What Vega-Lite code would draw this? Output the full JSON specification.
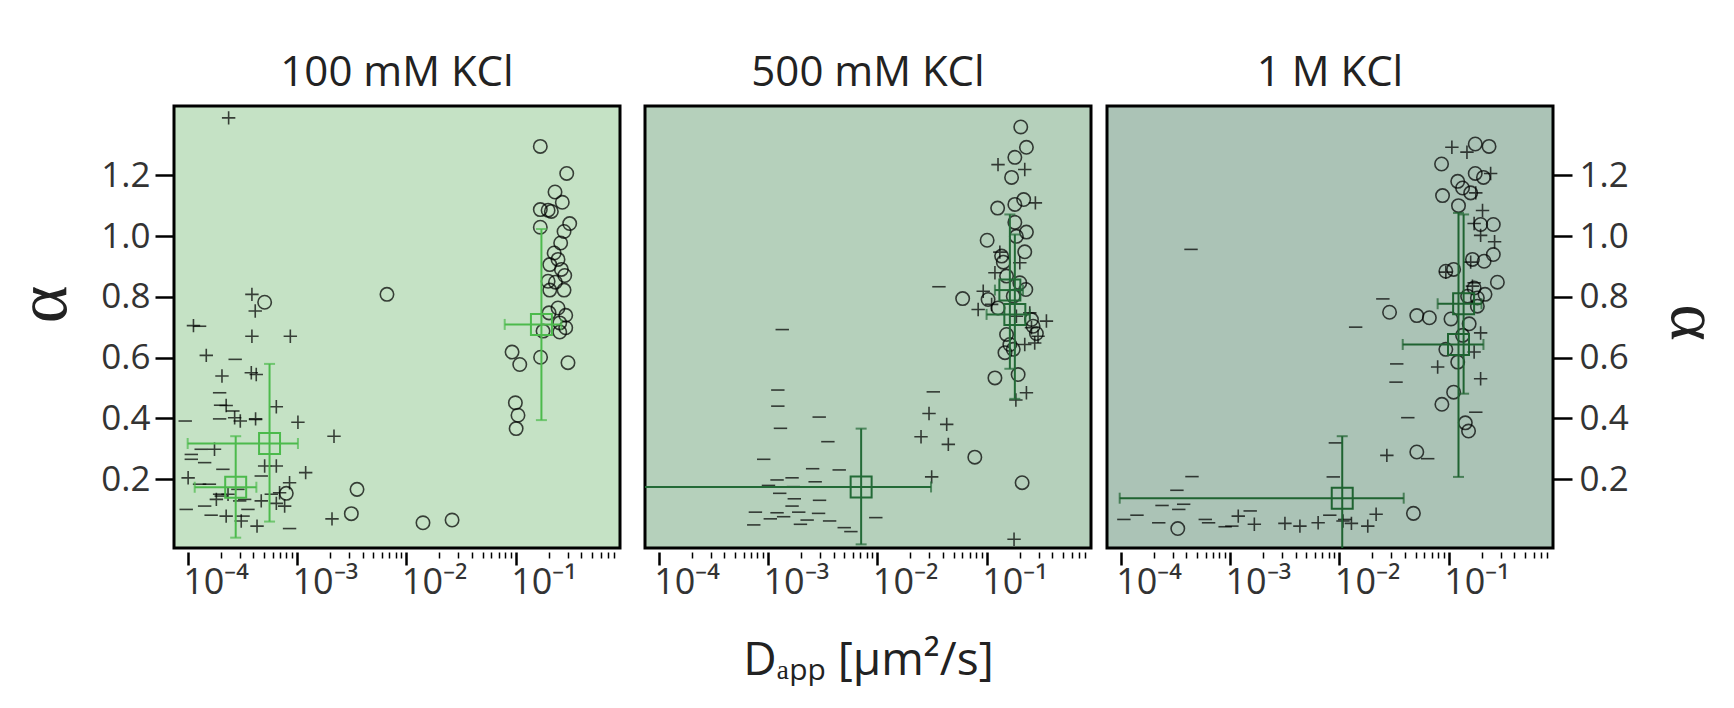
{
  "$schema": "https://vega.github.io/schema/vega-lite/v6.json",
  "background": "white",
  "padding": {"left": 6, "top": 50, "right": 5, "bottom": 5},
  "spacing": 12,
  "config": {
    "view": {"stroke": "black", "strokeWidth": 3},
    "title": {"font": "Open Sans", "fontSize": 42, "fontWeight": "normal", "color": "#222", "offset": 11}
  },
  "datasets": {
    "pts": [
      {"p":1,"s":"o","D":0.168,"a":1.295},{"p":1,"s":"o","D":0.293,"a":1.206},{"p":1,"s":"o","D":0.229,"a":1.145},{"p":1,"s":"o","D":0.267,"a":1.111},{"p":1,"s":"o","D":0.168,"a":1.087},{"p":1,"s":"o","D":0.198,"a":1.085},{"p":1,"s":"o","D":0.212,"a":1.081},{"p":1,"s":"o","D":0.312,"a":1.041},{"p":1,"s":"o","D":0.168,"a":1.029},{"p":1,"s":"o","D":0.277,"a":1.015},{"p":1,"s":"o","D":0.258,"a":0.977},{"p":1,"s":"o","D":0.225,"a":0.944},{"p":1,"s":"o","D":0.244,"a":0.923},{"p":1,"s":"o","D":0.205,"a":0.906},{"p":1,"s":"o","D":0.262,"a":0.890},{"p":1,"s":"o","D":0.281,"a":0.870},{"p":1,"s":"o","D":0.198,"a":0.851},{"p":1,"s":"o","D":0.231,"a":0.848},{"p":1,"s":"o","D":0.205,"a":0.822},{"p":1,"s":"o","D":0.277,"a":0.822},{"p":1,"s":"o","D":0.244,"a":0.763},{"p":1,"s":"o","D":0.202,"a":0.747},{"p":1,"s":"o","D":0.287,"a":0.739},{"p":1,"s":"o","D":0.253,"a":0.714},{"p":1,"s":"o","D":0.287,"a":0.698},{"p":1,"s":"o","D":0.178,"a":0.687},{"p":1,"s":"o","D":0.253,"a":0.684},{"p":1,"s":"o","D":0.0927,"a":0.618},{"p":1,"s":"o","D":0.109,"a":0.577},{"p":1,"s":"o","D":0.169,"a":0.601},{"p":1,"s":"o","D":0.301,"a":0.583},{"p":1,"s":"o","D":0.0994,"a":0.451},{"p":1,"s":"o","D":0.105,"a":0.410},{"p":1,"s":"o","D":0.101,"a":0.366},{"p":1,"s":"o","D":0.00665,"a":0.808},{"p":1,"s":"o","D":0.00354,"a":0.166},{"p":1,"s":"o","D":0.00314,"a":0.086},{"p":1,"s":"o","D":0.0142,"a":0.056},{"p":1,"s":"o","D":0.0262,"a":0.065},{"p":1,"s":"o","D":0.000506,"a":0.782},{"p":1,"s":"o","D":0.000798,"a":0.153},
      {"p":1,"s":"+","D":0.000237,"a":1.389},{"p":1,"s":"+","D":0.000113,"a":0.705},{"p":1,"s":"+","D":0.000387,"a":0.808},{"p":1,"s":"+","D":0.000415,"a":0.753},{"p":1,"s":"+","D":0.000387,"a":0.670},{"p":1,"s":"+","D":0.000869,"a":0.670},{"p":1,"s":"+","D":0.000148,"a":0.607},{"p":1,"s":"+","D":0.000206,"a":0.539},{"p":1,"s":"+","D":0.000382,"a":0.550},{"p":1,"s":"+","D":0.000424,"a":0.544},{"p":1,"s":"+","D":0.000647,"a":0.438},{"p":1,"s":"+","D":0.00102,"a":0.387},{"p":1,"s":"+","D":0.000269,"a":0.402},{"p":1,"s":"+","D":0.000303,"a":0.391},{"p":1,"s":"+","D":0.000418,"a":0.398},{"p":1,"s":"+","D":0.000225,"a":0.442},{"p":1,"s":"+","D":0.00218,"a":0.341},{"p":1,"s":"+","D":0.000176,"a":0.298},{"p":1,"s":"+","D":0.000506,"a":0.243},{"p":1,"s":"+","D":0.000647,"a":0.243},{"p":1,"s":"+","D":0.0012,"a":0.221},{"p":1,"s":"+","D":0.000101,"a":0.204},{"p":1,"s":"+","D":0.000855,"a":0.188},{"p":1,"s":"+","D":0.000693,"a":0.155},{"p":1,"s":"+","D":0.000471,"a":0.128},{"p":1,"s":"+","D":0.000771,"a":0.111},{"p":1,"s":"+","D":0.000225,"a":0.078},{"p":1,"s":"+","D":0.000431,"a":0.045},{"p":1,"s":"+","D":0.00209,"a":0.069},{"p":1,"s":"+","D":0.000647,"a":0.120},{"p":1,"s":"+","D":0.000234,"a":0.150},{"p":1,"s":"+","D":0.000309,"a":0.062},{"p":1,"s":"+","D":0.000183,"a":0.133},
      {"p":1,"s":"-","D":0.0001285,"a":0.703},{"p":1,"s":"-","D":0.000272,"a":0.594},{"p":1,"s":"-","D":0.000196,"a":0.484},{"p":1,"s":"-","D":0.0002,"a":0.443},{"p":1,"s":"-","D":0.000259,"a":0.424},{"p":1,"s":"-","D":0.000196,"a":0.398},{"p":1,"s":"-","D":0.000418,"a":0.396},{"p":1,"s":"-","D":0.000095,"a":0.391},{"p":1,"s":"-","D":0.000108,"a":0.281},{"p":1,"s":"-","D":0.000133,"a":0.298},{"p":1,"s":"-","D":0.000108,"a":0.265},{"p":1,"s":"-","D":0.000143,"a":0.254},{"p":1,"s":"-","D":0.00021,"a":0.232},{"p":1,"s":"-","D":0.0001285,"a":0.183},{"p":1,"s":"-","D":0.000158,"a":0.183},{"p":1,"s":"-","D":0.000097,"a":0.100},{"p":1,"s":"-","D":0.000143,"a":0.111},{"p":1,"s":"-","D":0.000164,"a":0.081},{"p":1,"s":"-","D":0.000321,"a":0.078},{"p":1,"s":"-","D":0.000356,"a":0.100},{"p":1,"s":"-","D":0.000855,"a":0.037},{"p":1,"s":"-","D":0.000299,"a":0.128},{"p":1,"s":"-","D":0.000203,"a":0.144},{"p":1,"s":"-","D":0.000582,"a":0.150},{"p":1,"s":"-","D":0.000288,"a":0.166},{"p":1,"s":"-","D":0.000332,"a":0.133},{"p":1,"s":"-","D":0.000471,"a":0.210},{"p":1,"s":"-","D":0.000196,"a":0.150},
      {"p":2,"s":"o","D":0.205,"a":1.359},{"p":2,"s":"o","D":0.231,"a":1.292},{"p":2,"s":"o","D":0.181,"a":1.259},{"p":2,"s":"o","D":0.169,"a":1.193},{"p":2,"s":"o","D":0.218,"a":1.120},{"p":2,"s":"o","D":0.181,"a":1.104},{"p":2,"s":"o","D":0.126,"a":1.092},{"p":2,"s":"o","D":0.181,"a":1.045},{"p":2,"s":"o","D":0.231,"a":1.013},{"p":2,"s":"o","D":0.187,"a":0.999},{"p":2,"s":"o","D":0.101,"a":0.986},{"p":2,"s":"o","D":0.223,"a":0.948},{"p":2,"s":"o","D":0.142,"a":0.914},{"p":2,"s":"o","D":0.152,"a":0.868},{"p":2,"s":"o","D":0.228,"a":0.824},{"p":2,"s":"o","D":0.0603,"a":0.794},{"p":2,"s":"o","D":0.103,"a":0.791},{"p":2,"s":"o","D":0.127,"a":0.763},{"p":2,"s":"o","D":0.175,"a":0.802},{"p":2,"s":"o","D":0.266,"a":0.703},{"p":2,"s":"o","D":0.257,"a":0.725},{"p":2,"s":"o","D":0.152,"a":0.676},{"p":2,"s":"o","D":0.285,"a":0.679},{"p":2,"s":"o","D":0.163,"a":0.643},{"p":2,"s":"o","D":0.147,"a":0.616},{"p":2,"s":"o","D":0.175,"a":0.627},{"p":2,"s":"o","D":0.119,"a":0.533},{"p":2,"s":"o","D":0.194,"a":0.544},{"p":2,"s":"o","D":0.0779,"a":0.272},{"p":2,"s":"o","D":0.211,"a":0.188},{"p":2,"s":"o","D":0.201,"a":0.846},{"p":2,"s":"o","D":0.137,"a":0.934},
      {"p":2,"s":"+","D":0.127,"a":1.235},{"p":2,"s":"+","D":0.223,"a":1.219},{"p":2,"s":"+","D":0.279,"a":1.109},{"p":2,"s":"+","D":0.132,"a":0.947},{"p":2,"s":"+","D":0.201,"a":0.912},{"p":2,"s":"+","D":0.119,"a":0.879},{"p":2,"s":"+","D":0.093,"a":0.818},{"p":2,"s":"+","D":0.0836,"a":0.758},{"p":2,"s":"+","D":0.111,"a":0.775},{"p":2,"s":"+","D":0.352,"a":0.720},{"p":2,"s":"+","D":0.257,"a":0.698},{"p":2,"s":"+","D":0.295,"a":0.670},{"p":2,"s":"+","D":0.223,"a":0.643},{"p":2,"s":"+","D":0.275,"a":0.648},{"p":2,"s":"+","D":0.231,"a":0.484},{"p":2,"s":"+","D":0.185,"a":0.460},{"p":2,"s":"+","D":0.0297,"a":0.416},{"p":2,"s":"+","D":0.0431,"a":0.380},{"p":2,"s":"+","D":0.0251,"a":0.339},{"p":2,"s":"+","D":0.0446,"a":0.314},{"p":2,"s":"+","D":0.0314,"a":0.207},{"p":2,"s":"+","D":0.178,"a":0.002},{"p":2,"s":"+","D":0.248,"a":0.747},{"p":2,"s":"+","D":0.187,"a":0.736},
      {"p":2,"s":"-","D":0.00135,"a":0.692},{"p":2,"s":"-","D":0.0366,"a":0.833},{"p":2,"s":"-","D":0.00123,"a":0.493},{"p":2,"s":"-","D":0.00123,"a":0.440},{"p":2,"s":"-","D":0.0013,"a":0.367},{"p":2,"s":"-","D":0.00294,"a":0.404},{"p":2,"s":"-","D":0.00353,"a":0.323},{"p":2,"s":"-","D":0.000914,"a":0.265},{"p":2,"s":"-","D":0.00256,"a":0.234},{"p":2,"s":"-","D":0.00448,"a":0.230},{"p":2,"s":"-","D":0.00121,"a":0.197},{"p":2,"s":"-","D":0.00166,"a":0.204},{"p":2,"s":"-","D":0.0027,"a":0.191},{"p":2,"s":"-","D":0.0325,"a":0.487},{"p":2,"s":"-","D":0.00101,"a":0.179},{"p":2,"s":"-","D":0.00171,"a":0.175},{"p":2,"s":"-","D":0.00128,"a":0.153},{"p":2,"s":"-","D":0.00174,"a":0.135},{"p":2,"s":"-","D":0.00296,"a":0.130},{"p":2,"s":"-","D":0.00166,"a":0.111},{"p":2,"s":"-","D":0.000767,"a":0.091},{"p":2,"s":"-","D":0.00121,"a":0.089},{"p":2,"s":"-","D":0.00191,"a":0.091},{"p":2,"s":"-","D":0.0029,"a":0.087},{"p":2,"s":"-","D":0.00139,"a":0.076},{"p":2,"s":"-","D":0.00105,"a":0.069},{"p":2,"s":"-","D":0.00228,"a":0.065},{"p":2,"s":"-","D":0.000741,"a":0.049},{"p":2,"s":"-","D":0.00198,"a":0.051},{"p":2,"s":"-","D":0.00366,"a":0.062},{"p":2,"s":"-","D":0.00498,"a":0.040},{"p":2,"s":"-","D":0.00573,"a":0.027},{"p":2,"s":"-","D":0.00968,"a":0.073},
      {"p":3,"s":"o","D":0.175,"a":1.303},{"p":3,"s":"o","D":0.234,"a":1.295},{"p":3,"s":"o","D":0.0861,"a":1.237},{"p":3,"s":"o","D":0.175,"a":1.206},{"p":3,"s":"o","D":0.208,"a":1.193},{"p":3,"s":"o","D":0.121,"a":1.180},{"p":3,"s":"o","D":0.134,"a":1.158},{"p":3,"s":"o","D":0.159,"a":1.142},{"p":3,"s":"o","D":0.0879,"a":1.133},{"p":3,"s":"o","D":0.123,"a":1.100},{"p":3,"s":"o","D":0.196,"a":1.038},{"p":3,"s":"o","D":0.256,"a":1.038},{"p":3,"s":"o","D":0.256,"a":0.939},{"p":3,"s":"o","D":0.165,"a":0.923},{"p":3,"s":"o","D":0.211,"a":0.917},{"p":3,"s":"o","D":0.0942,"a":0.884},{"p":3,"s":"o","D":0.111,"a":0.890},{"p":3,"s":"o","D":0.279,"a":0.848},{"p":3,"s":"o","D":0.171,"a":0.829},{"p":3,"s":"o","D":0.215,"a":0.808},{"p":3,"s":"o","D":0.183,"a":0.769},{"p":3,"s":"o","D":0.0288,"a":0.749},{"p":3,"s":"o","D":0.0511,"a":0.738},{"p":3,"s":"o","D":0.0666,"a":0.731},{"p":3,"s":"o","D":0.105,"a":0.727},{"p":3,"s":"o","D":0.154,"a":0.711},{"p":3,"s":"o","D":0.134,"a":0.673},{"p":3,"s":"o","D":0.0942,"a":0.627},{"p":3,"s":"o","D":0.121,"a":0.585},{"p":3,"s":"o","D":0.111,"a":0.486},{"p":3,"s":"o","D":0.0867,"a":0.446},{"p":3,"s":"o","D":0.142,"a":0.385},{"p":3,"s":"o","D":0.152,"a":0.358},{"p":3,"s":"o","D":0.0511,"a":0.289},{"p":3,"s":"o","D":0.0476,"a":0.087},{"p":3,"s":"o","D":0.000333,"a":0.037},{"p":3,"s":"o","D":0.149,"a":0.802},{"p":3,"s":"o","D":0.183,"a":0.796},
      {"p":3,"s":"+","D":0.107,"a":1.292},{"p":3,"s":"+","D":0.147,"a":1.276},{"p":3,"s":"+","D":0.242,"a":1.206},{"p":3,"s":"+","D":0.177,"a":1.142},{"p":3,"s":"+","D":0.204,"a":1.084},{"p":3,"s":"+","D":0.171,"a":1.041},{"p":3,"s":"+","D":0.196,"a":1.002},{"p":3,"s":"+","D":0.263,"a":0.981},{"p":3,"s":"+","D":0.0942,"a":0.881},{"p":3,"s":"+","D":0.165,"a":0.835},{"p":3,"s":"+","D":0.196,"a":0.681},{"p":3,"s":"+","D":0.171,"a":0.618},{"p":3,"s":"+","D":0.0793,"a":0.569},{"p":3,"s":"+","D":0.196,"a":0.530},{"p":3,"s":"+","D":0.0272,"a":0.278},{"p":3,"s":"+","D":0.00119,"a":0.078},{"p":3,"s":"+","D":0.00167,"a":0.051},{"p":3,"s":"+","D":0.00318,"a":0.054},{"p":3,"s":"+","D":0.00436,"a":0.045},{"p":3,"s":"+","D":0.0064,"a":0.056},{"p":3,"s":"+","D":0.0129,"a":0.054},{"p":3,"s":"+","D":0.0182,"a":0.045},{"p":3,"s":"+","D":0.0217,"a":0.084},{"p":3,"s":"+","D":0.0108,"a":0.062},{"p":3,"s":"+","D":0.159,"a":0.914},
      {"p":3,"s":"-","D":0.00044,"a":0.956},{"p":3,"s":"-","D":0.0141,"a":0.700},{"p":3,"s":"-","D":0.025,"a":0.793},{"p":3,"s":"-","D":0.0335,"a":0.579},{"p":3,"s":"-","D":0.033,"a":0.519},{"p":3,"s":"-","D":0.0423,"a":0.402},{"p":3,"s":"-","D":0.177,"a":0.420},{"p":3,"s":"-","D":0.0643,"a":0.267},{"p":3,"s":"-","D":0.0092,"a":0.319},{"p":3,"s":"-","D":0.0088,"a":0.207},{"p":3,"s":"-","D":0.000449,"a":0.208},{"p":3,"s":"-","D":0.000327,"a":0.163},{"p":3,"s":"-","D":0.000239,"a":0.113},{"p":3,"s":"-","D":0.000377,"a":0.117},{"p":3,"s":"-","D":0.00034,"a":0.100},{"p":3,"s":"-","D":0.000141,"a":0.081},{"p":3,"s":"-","D":0.000107,"a":0.067},{"p":3,"s":"-","D":0.000223,"a":0.056},{"p":3,"s":"-","D":0.000594,"a":0.067},{"p":3,"s":"-","D":0.00153,"a":0.095},{"p":3,"s":"-","D":0.000903,"a":0.043},{"p":3,"s":"-","D":0.000637,"a":0.056},{"p":3,"s":"-","D":0.00818,"a":0.081},{"p":3,"s":"-","D":0.0112,"a":0.067},{"p":3,"s":"-","D":0.171,"a":0.846},{"p":3,"s":"-","D":0.00104,"a":0.045}
    ],
    "means": [
      {"p":1,"D":0.000275,"a":0.173,"Dlo":0.000116,"Dhi":0.000425,"alo":0.007,"ahi":0.341},
      {"p":1,"D":0.000561,"a":0.317,"Dlo":0.0001,"Dhi":0.00102,"alo":0.06,"ahi":0.579},
      {"p":1,"D":0.172,"a":0.709,"Dlo":0.0794,"Dhi":0.262,"alo":0.394,"ahi":1.023},
      {"p":2,"D":0.00711,"a":0.174,"Dlo":0.00007,"Dhi":0.031,"alo":-0.015,"ahi":0.366},
      {"p":2,"D":0.163,"a":0.822,"Dlo":0.119,"Dhi":0.215,"alo":0.563,"ahi":1.071},
      {"p":2,"D":0.181,"a":0.742,"Dlo":0.0998,"Dhi":0.248,"alo":0.464,"ahi":1.005},
      {"p":3,"D":0.01063,"a":0.137,"Dlo":0.000098,"Dhi":0.0388,"alo":-0.05,"ahi":0.341},
      {"p":3,"D":0.137,"a":0.777,"Dlo":0.0793,"Dhi":0.1995,"alo":0.481,"ahi":1.071},
      {"p":3,"D":0.123,"a":0.643,"Dlo":0.038,"Dhi":0.208,"alo":0.207,"ahi":1.076}
    ]
  },
  "hconcat": [
    {
      "spacing": 21,
      "hconcat": [
    {
      "width": 446, "height": 442,
      "title": "100 mM KCl",
      "view": {"fill": "#c5e2c5"},
      "layer": [
        {"data": {"name": "pts"}, "transform": [{"filter": "datum.p == 1"}],
         "mark": {"type": "point", "filled": false, "color": "black", "strokeWidth": 1.6, "opacity": 0.72, "size": 180},
         "encoding": {
           "x": {"field": "D", "type": "quantitative", "scale": {"type": "log", "domain": [0.000075, 0.9], "nice": false},
             "axis": {"values": [0.0001,0.0002,0.0003,0.0004,0.0005,0.0006,0.0007,0.0008,0.0009,0.001,0.002,0.003,0.004,0.005,0.006,0.007,0.008,0.009,0.01,0.02,0.03,0.04,0.05,0.06,0.07,0.08,0.09,0.1,0.2,0.3,0.4,0.5,0.6,0.7,0.8],
               "labelExpr": "datum.value == 0.0001 ? '10⁻⁴' : datum.value == 0.001 ? '10⁻³' : datum.value == 0.01 ? '10⁻²' : datum.value == 0.1 ? '10⁻¹' : ''",
               "tickSize": {"condition": {"test": "datum.value == 0.0001 || datum.value == 0.001 || datum.value == 0.01 || datum.value == 0.1", "value": 13}, "value": 6},
               "tickWidth": {"condition": {"test": "datum.value == 0.0001 || datum.value == 0.001 || datum.value == 0.01 || datum.value == 0.1", "value": 2.5}, "value": 1.5},
               "tickColor": "black", "domain": false, "grid": false, "offset": 4,
               "labelFont": "Open Sans", "labelFontSize": 36, "labelColor": "#333", "labelAlign": "left", "labelOffset": -5, "labelPadding": 0,
               "labelOverlap": false, "labelBound": false, "labelFlush": false, "title": null}},
           "y": {"field": "a", "type": "quantitative", "scale": {"domain": [-0.027, 1.428], "nice": false, "zero": false},
             "axis": {"orient": "left", "values": [0.2,0.4,0.6,0.8,1,1.2], "format": ".1f", "tickSize": 19, "tickWidth": 2.5, "tickColor": "black",
               "domain": false, "grid": false, "labelFont": "Open Sans", "labelFontSize": 35, "labelColor": "#333", "labelPadding": 5,
               "title": "α", "titleFont": "Liberation Serif", "titleFontSize": 72, "titleFontWeight": "normal", "titleColor": "#222", "titlePadding": 20, "titleY": 198}},
           "shape": {"field": "s", "type": "nominal", "scale": {"domain": ["o", "+", "-"], "range": ["circle", "M-1,0H1M0,-1V1", "M-1,0H1"]}, "legend": null}
         }},
        {"data": {"name": "means"}, "transform": [{"filter": "datum.p == 1"}],
         "mark": {"type": "rule", "color": "#4cba4c", "strokeWidth": 2, "clip": true},
         "encoding": {"x": {"field": "D", "type": "quantitative"}, "y": {"field": "alo", "type": "quantitative"}, "y2": {"field": "ahi"}}},
        {"data": {"name": "means"}, "transform": [{"filter": "datum.p == 1"}],
         "mark": {"type": "rule", "color": "#4cba4c", "strokeWidth": 2, "clip": true},
         "encoding": {"x": {"field": "Dlo", "type": "quantitative"}, "x2": {"field": "Dhi"}, "y": {"field": "a", "type": "quantitative"}}},
        {"data": {"name": "means"}, "transform": [{"filter": "datum.p == 1"}],
         "mark": {"type": "tick", "orient": "horizontal", "color": "#4cba4c", "size": 11, "thickness": 2, "clip": true},
         "encoding": {"x": {"field": "D", "type": "quantitative"}, "y": {"field": "alo", "type": "quantitative"}}},
        {"data": {"name": "means"}, "transform": [{"filter": "datum.p == 1"}],
         "mark": {"type": "tick", "orient": "horizontal", "color": "#4cba4c", "size": 11, "thickness": 2, "clip": true},
         "encoding": {"x": {"field": "D", "type": "quantitative"}, "y": {"field": "ahi", "type": "quantitative"}}},
        {"data": {"name": "means"}, "transform": [{"filter": "datum.p == 1"}],
         "mark": {"type": "tick", "orient": "vertical", "color": "#4cba4c", "size": 11, "thickness": 2, "clip": true},
         "encoding": {"x": {"field": "Dlo", "type": "quantitative"}, "y": {"field": "a", "type": "quantitative"}}},
        {"data": {"name": "means"}, "transform": [{"filter": "datum.p == 1"}],
         "mark": {"type": "tick", "orient": "vertical", "color": "#4cba4c", "size": 11, "thickness": 2, "clip": true},
         "encoding": {"x": {"field": "Dhi", "type": "quantitative"}, "y": {"field": "a", "type": "quantitative"}}},
        {"data": {"name": "means"}, "transform": [{"filter": "datum.p == 1"}],
         "mark": {"type": "point", "shape": "square", "filled": false, "color": "#4cba4c", "strokeWidth": 2, "size": 440, "opacity": 1},
         "encoding": {"x": {"field": "D", "type": "quantitative"}, "y": {"field": "a", "type": "quantitative"}}}
      ]
    },
    {
      "width": 446, "height": 442,
      "title": "500 mM KCl",
      "view": {"fill": "#b5d0bb"},
      "layer": [
        {"data": {"name": "pts"}, "transform": [{"filter": "datum.p == 2"}],
         "mark": {"type": "point", "filled": false, "color": "black", "strokeWidth": 1.6, "opacity": 0.72, "size": 180},
         "encoding": {
           "x": {"field": "D", "type": "quantitative", "scale": {"type": "log", "domain": [0.000075, 0.9], "nice": false},
             "axis": {"values": [0.0001,0.0002,0.0003,0.0004,0.0005,0.0006,0.0007,0.0008,0.0009,0.001,0.002,0.003,0.004,0.005,0.006,0.007,0.008,0.009,0.01,0.02,0.03,0.04,0.05,0.06,0.07,0.08,0.09,0.1,0.2,0.3,0.4,0.5,0.6,0.7,0.8],
               "labelExpr": "datum.value == 0.0001 ? '10⁻⁴' : datum.value == 0.001 ? '10⁻³' : datum.value == 0.01 ? '10⁻²' : datum.value == 0.1 ? '10⁻¹' : ''",
               "tickSize": {"condition": {"test": "datum.value == 0.0001 || datum.value == 0.001 || datum.value == 0.01 || datum.value == 0.1", "value": 13}, "value": 6},
               "tickWidth": {"condition": {"test": "datum.value == 0.0001 || datum.value == 0.001 || datum.value == 0.01 || datum.value == 0.1", "value": 2.5}, "value": 1.5},
               "tickColor": "black", "domain": false, "grid": false, "offset": 4,
               "labelFont": "Open Sans", "labelFontSize": 36, "labelColor": "#333", "labelAlign": "left", "labelOffset": -5, "labelPadding": 0,
               "labelOverlap": false, "labelBound": false, "labelFlush": false,
               "title": "Dₐₚₚ [μm²/s]", "titleFont": "Open Sans", "titleFontSize": 46, "titleFontWeight": "normal", "titleColor": "#222", "titlePadding": 38}},
           "y": {"field": "a", "type": "quantitative", "scale": {"domain": [-0.027, 1.428], "nice": false, "zero": false}, "axis": null},
           "shape": {"field": "s", "type": "nominal", "scale": {"domain": ["o", "+", "-"], "range": ["circle", "M-1,0H1M0,-1V1", "M-1,0H1"]}, "legend": null}
         }},
        {"data": {"name": "means"}, "transform": [{"filter": "datum.p == 2"}],
         "mark": {"type": "rule", "color": "#236a37", "strokeWidth": 2, "clip": true},
         "encoding": {"x": {"field": "D", "type": "quantitative"}, "y": {"field": "alo", "type": "quantitative"}, "y2": {"field": "ahi"}}},
        {"data": {"name": "means"}, "transform": [{"filter": "datum.p == 2"}],
         "mark": {"type": "rule", "color": "#236a37", "strokeWidth": 2, "clip": true},
         "encoding": {"x": {"field": "Dlo", "type": "quantitative"}, "x2": {"field": "Dhi"}, "y": {"field": "a", "type": "quantitative"}}},
        {"data": {"name": "means"}, "transform": [{"filter": "datum.p == 2"}],
         "mark": {"type": "tick", "orient": "horizontal", "color": "#236a37", "size": 11, "thickness": 2, "clip": true},
         "encoding": {"x": {"field": "D", "type": "quantitative"}, "y": {"field": "alo", "type": "quantitative"}}},
        {"data": {"name": "means"}, "transform": [{"filter": "datum.p == 2"}],
         "mark": {"type": "tick", "orient": "horizontal", "color": "#236a37", "size": 11, "thickness": 2, "clip": true},
         "encoding": {"x": {"field": "D", "type": "quantitative"}, "y": {"field": "ahi", "type": "quantitative"}}},
        {"data": {"name": "means"}, "transform": [{"filter": "datum.p == 2"}],
         "mark": {"type": "tick", "orient": "vertical", "color": "#236a37", "size": 11, "thickness": 2, "clip": true},
         "encoding": {"x": {"field": "Dlo", "type": "quantitative"}, "y": {"field": "a", "type": "quantitative"}}},
        {"data": {"name": "means"}, "transform": [{"filter": "datum.p == 2"}],
         "mark": {"type": "tick", "orient": "vertical", "color": "#236a37", "size": 11, "thickness": 2, "clip": true},
         "encoding": {"x": {"field": "Dhi", "type": "quantitative"}, "y": {"field": "a", "type": "quantitative"}}},
        {"data": {"name": "means"}, "transform": [{"filter": "datum.p == 2"}],
         "mark": {"type": "point", "shape": "square", "filled": false, "color": "#236a37", "strokeWidth": 2, "size": 440, "opacity": 1},
         "encoding": {"x": {"field": "D", "type": "quantitative"}, "y": {"field": "a", "type": "quantitative"}}}
      ]
    }
      ]
    },
    {
      "width": 446, "height": 442,
      "title": "1 M KCl",
      "view": {"fill": "#abc3b6"},
      "layer": [
        {"data": {"name": "pts"}, "transform": [{"filter": "datum.p == 3"}],
         "mark": {"type": "point", "filled": false, "color": "black", "strokeWidth": 1.6, "opacity": 0.72, "size": 180},
         "encoding": {
           "x": {"field": "D", "type": "quantitative", "scale": {"type": "log", "domain": [0.000075, 0.9], "nice": false},
             "axis": {"values": [0.0001,0.0002,0.0003,0.0004,0.0005,0.0006,0.0007,0.0008,0.0009,0.001,0.002,0.003,0.004,0.005,0.006,0.007,0.008,0.009,0.01,0.02,0.03,0.04,0.05,0.06,0.07,0.08,0.09,0.1,0.2,0.3,0.4,0.5,0.6,0.7,0.8],
               "labelExpr": "datum.value == 0.0001 ? '10⁻⁴' : datum.value == 0.001 ? '10⁻³' : datum.value == 0.01 ? '10⁻²' : datum.value == 0.1 ? '10⁻¹' : ''",
               "tickSize": {"condition": {"test": "datum.value == 0.0001 || datum.value == 0.001 || datum.value == 0.01 || datum.value == 0.1", "value": 13}, "value": 6},
               "tickWidth": {"condition": {"test": "datum.value == 0.0001 || datum.value == 0.001 || datum.value == 0.01 || datum.value == 0.1", "value": 2.5}, "value": 1.5},
               "tickColor": "black", "domain": false, "grid": false, "offset": 4,
               "labelFont": "Open Sans", "labelFontSize": 36, "labelColor": "#333", "labelAlign": "left", "labelOffset": -5, "labelPadding": 0,
               "labelOverlap": false, "labelBound": false, "labelFlush": false, "title": null}},
           "y": {"field": "a", "type": "quantitative", "scale": {"domain": [-0.027, 1.428], "nice": false, "zero": false},
             "axis": {"orient": "right", "values": [0.2,0.4,0.6,0.8,1,1.2], "format": ".1f", "tickSize": 19, "tickWidth": 2.5, "tickColor": "black",
               "domain": false, "grid": false, "labelFont": "Open Sans", "labelFontSize": 35, "labelColor": "#333", "labelPadding": 7,
               "title": "α", "titleFont": "Liberation Serif", "titleFontSize": 70, "titleFontWeight": "normal", "titleColor": "#222", "titlePadding": 28, "titleY": 216}},
           "shape": {"field": "s", "type": "nominal", "scale": {"domain": ["o", "+", "-"], "range": ["circle", "M-1,0H1M0,-1V1", "M-1,0H1"]}, "legend": null}
         }},
        {"data": {"name": "means"}, "transform": [{"filter": "datum.p == 3"}],
         "mark": {"type": "rule", "color": "#1f6331", "strokeWidth": 2, "clip": true},
         "encoding": {"x": {"field": "D", "type": "quantitative"}, "y": {"field": "alo", "type": "quantitative"}, "y2": {"field": "ahi"}}},
        {"data": {"name": "means"}, "transform": [{"filter": "datum.p == 3"}],
         "mark": {"type": "rule", "color": "#1f6331", "strokeWidth": 2, "clip": true},
         "encoding": {"x": {"field": "Dlo", "type": "quantitative"}, "x2": {"field": "Dhi"}, "y": {"field": "a", "type": "quantitative"}}},
        {"data": {"name": "means"}, "transform": [{"filter": "datum.p == 3"}],
         "mark": {"type": "tick", "orient": "horizontal", "color": "#1f6331", "size": 11, "thickness": 2, "clip": true},
         "encoding": {"x": {"field": "D", "type": "quantitative"}, "y": {"field": "alo", "type": "quantitative"}}},
        {"data": {"name": "means"}, "transform": [{"filter": "datum.p == 3"}],
         "mark": {"type": "tick", "orient": "horizontal", "color": "#1f6331", "size": 11, "thickness": 2, "clip": true},
         "encoding": {"x": {"field": "D", "type": "quantitative"}, "y": {"field": "ahi", "type": "quantitative"}}},
        {"data": {"name": "means"}, "transform": [{"filter": "datum.p == 3"}],
         "mark": {"type": "tick", "orient": "vertical", "color": "#1f6331", "size": 11, "thickness": 2, "clip": true},
         "encoding": {"x": {"field": "Dlo", "type": "quantitative"}, "y": {"field": "a", "type": "quantitative"}}},
        {"data": {"name": "means"}, "transform": [{"filter": "datum.p == 3"}],
         "mark": {"type": "tick", "orient": "vertical", "color": "#1f6331", "size": 11, "thickness": 2, "clip": true},
         "encoding": {"x": {"field": "Dhi", "type": "quantitative"}, "y": {"field": "a", "type": "quantitative"}}},
        {"data": {"name": "means"}, "transform": [{"filter": "datum.p == 3"}],
         "mark": {"type": "point", "shape": "square", "filled": false, "color": "#1f6331", "strokeWidth": 2, "size": 440, "opacity": 1},
         "encoding": {"x": {"field": "D", "type": "quantitative"}, "y": {"field": "a", "type": "quantitative"}}}
      ]
    }
  ]
}
